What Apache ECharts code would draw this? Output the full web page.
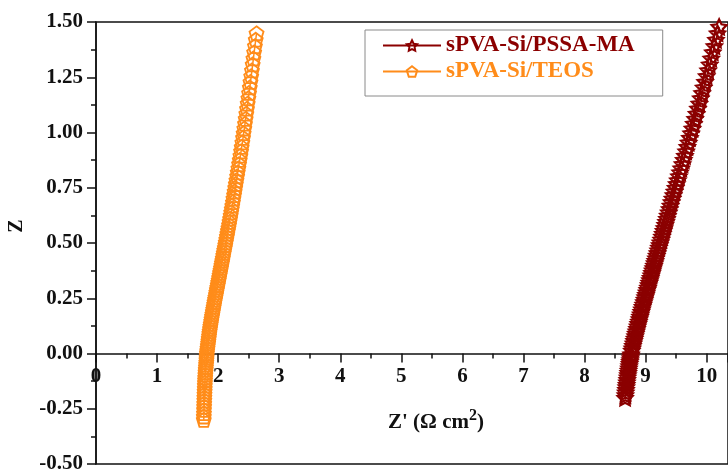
<!DOCTYPE html>
<html>
<head>
<meta charset="utf-8">
<script src="https://cdn.jsdelivr.net/npm/echarts@6/dist/echarts.min.js"></script>
<style>html,body{margin:0;padding:0;background:#fff}#c{width:728px;height:473px}</style>
</head>
<body>
<div id="c"></div>
<script>
var seriesNames = ['sPVA-Si/PSSA-MA', 'sPVA-Si/TEOS'];
var xTicks = [0,1,2,3,4,5,6,7,8,9,10];
var xMax = 10.35;
var yTicks = [-0.5,-0.25,0,0.25,0.5,0.75,1.0,1.25,1.5];

var teosY = [-0.300,-0.285,-0.270,-0.255,-0.240,-0.226,-0.212,-0.198,-0.184,-0.171,-0.158,-0.145,-0.132,-0.120,-0.108,-0.096,-0.084,-0.072,-0.061,-0.050,-0.039,-0.028,-0.018,-0.008,0.002,
0.013,0.024,0.035,0.046,0.057,0.068,0.079,0.090,0.101,0.112,0.123,0.134,0.145,0.156,0.167,0.178,0.189,0.200,0.211,0.222,0.233,0.244,0.255,0.266,0.277,0.288,0.299,0.310,0.321,0.332,0.343,0.354,0.365,0.376,0.387,0.398,0.409,
0.420,0.431,0.443,0.455,0.467,0.479,0.491,0.503,0.516,0.529,0.542,0.555,0.568,0.582,0.596,0.610,0.624,0.639,0.654,0.669,0.685,0.701,0.717,0.733,0.750,0.767,0.784,0.802,0.820,0.838,0.857,0.876,0.895,0.915,0.935,0.955,0.976,0.997,1.018,1.040,1.062,1.085,1.108,1.131,1.155,1.179,1.204,1.229,1.255,1.281,1.308,1.335,1.363,1.391,1.420,1.449];
var teosX = [1.765,1.766,1.768,1.769,1.771,1.772,1.774,1.775,1.777,1.779,1.781,1.782,1.784,1.786,1.788,1.791,1.794,1.797,1.800,1.803,1.806,1.809,1.811,1.814,1.816,
1.821,1.826,1.831,1.836,1.841,1.846,1.851,1.856,1.861,1.867,1.873,1.879,1.886,1.892,1.899,1.906,1.913,1.920,1.927,1.934,1.941,1.949,1.956,1.964,1.971,1.979,1.986,1.994,2.001,2.009,2.016,2.024,2.031,2.039,2.046,2.054,2.061,
2.069,2.076,2.084,2.092,2.100,2.109,2.117,2.125,2.134,2.143,2.151,2.160,2.169,2.178,2.187,2.196,2.205,2.214,2.223,2.232,2.242,2.251,2.261,2.270,2.280,2.290,2.300,2.311,2.321,2.332,2.343,2.354,2.365,2.376,2.386,2.397,2.408,2.418,2.429,2.440,2.451,2.462,2.473,2.484,2.496,2.507,2.519,2.530,2.542,2.554,2.566,2.578,2.590,2.603,2.616,2.629];

var pssaY = [-0.200,-0.188,-0.176,-0.164,-0.152,-0.141,-0.130,-0.119,-0.108,-0.097,-0.087,-0.077,-0.067,-0.057,-0.047,-0.038,-0.029,-0.020,-0.011,-0.003,
0.013,0.024,0.035,0.046,0.057,0.068,0.079,0.090,0.101,0.112,0.123,0.134,0.145,0.156,0.167,0.178,0.189,0.200,0.211,0.222,0.233,0.244,0.255,0.266,0.277,0.288,0.299,0.310,0.321,0.332,0.343,0.354,0.365,0.376,0.387,0.398,0.409,
0.420,0.431,0.443,0.455,0.467,0.479,0.491,0.503,0.516,0.529,0.542,0.555,0.568,0.582,0.596,0.610,0.624,0.639,0.654,0.669,0.685,0.701,0.717,0.733,0.750,0.767,0.784,0.802,0.820,0.838,0.857,0.876,0.895,0.915,0.935,0.955,0.976,0.997,1.018,1.040,1.062,1.085,1.108,1.131,1.155,1.179,1.204,1.229,1.255,1.281,1.308,1.335,1.363,1.391,1.420,1.449,1.478];
var pssaX = [8.665,8.670,8.675,8.680,8.685,8.690,8.695,8.700,8.705,8.711,8.716,8.721,8.727,8.732,8.738,8.743,8.748,8.753,8.758,8.763,
8.775,8.784,8.793,8.802,8.812,8.821,8.831,8.840,8.850,8.860,8.870,8.880,8.890,8.900,8.910,8.920,8.930,8.940,8.951,8.962,8.973,8.984,8.995,9.006,9.017,9.028,9.039,9.050,9.061,9.072,9.083,9.094,9.105,9.116,9.127,9.138,9.149,
9.160,9.171,9.183,9.195,9.207,9.219,9.231,9.243,9.256,9.269,9.282,9.295,9.308,9.322,9.336,9.350,9.364,9.379,9.394,9.409,9.425,9.441,9.457,9.474,9.492,9.510,9.528,9.547,9.566,9.585,9.605,9.625,9.645,9.665,9.685,9.705,9.726,9.747,9.768,9.790,9.812,9.835,9.858,9.881,9.904,9.927,9.951,9.975,10.000,10.025,10.050,10.075,10.101,10.127,10.153,10.179,10.205];

function zip(xs, ys){ var d=[]; for(var i=0;i<xs.length;i++) d.push([xs[i], ys[i]]); return d; }

var FONT = "'Liberation Serif','Times New Roman',serif";
var RED = '#8B0000', ORANGE = '#FF8C1A';
var starPath = 'path://M0,-10 L2.94,-4.05 L9.51,-3.09 L4.76,1.55 L5.88,8.09 L0,5.2 L-5.88,8.09 L-4.76,1.55 L-9.51,-3.09 L-2.94,-4.05 Z';
var pentPath = 'path://M0,-10 L9.51,-3.09 L5.88,8.09 L-5.88,8.09 L-9.51,-3.09 Z';

var chart = echarts.init(document.getElementById('c'), null, {renderer:'canvas'});
chart.setOption({
  animation: false,
  backgroundColor: '#fff',
  grid: { left: 96, top: 22, right: 0, bottom: 9, outerBoundsMode: 'none', containLabel: false,
          show: true, borderColor: '#111', borderWidth: 1.5, backgroundColor: 'transparent' },
  legend: {
    orient: 'vertical', left: 365, top: 30,
    padding: [4, 28, 13, 17], itemGap: 3,
    itemWidth: 58, itemHeight: 13,
    borderColor: '#8a8a8a', borderWidth: 1,
    textStyle: { fontFamily: FONT, fontWeight: 'bold', fontSize: 23 },
    data: [
      { name: seriesNames[0], textStyle: { color: RED } },
      { name: seriesNames[1], textStyle: { color: ORANGE } }
    ]
  },
  xAxis: {
    type: 'value', min: xTicks[0], max: xMax, interval: 1,
    position: 'bottom', offset: -110.5,
    axisLine: { onZero: false, lineStyle: { color: '#111', width: 1.5 } },
    axisTick: { show: true, inside: false, length: 9, lineStyle: { color: '#111', width: 1.5 } },
    minorTick: { show: true, splitNumber: 2, length: 5, lineStyle: { color: '#111', width: 1.5 } },
    splitLine: { show: false },
    axisLabel: { show: true, margin: 13, color: '#111', fontFamily: FONT, fontWeight: 'bold', fontSize: 21,
      showMaxLabel: false,
      formatter: function(v){ return xTicks.indexOf(v) >= 0 ? String(v) : ''; } },
    name: "Z' (Ω cm{sup|2})",
    nameLocation: 'middle', nameGap: 54,
    nameTextStyle: { color: '#111', fontFamily: FONT, fontWeight: 'bold', fontSize: 21, padding: [0,0,0,48],
      rich: { sup: { fontFamily: FONT, fontWeight: 'bold', fontSize: 16, color: '#111', padding: [0,0,15,0] } } }
  },
  yAxis: {
    type: 'value', min: yTicks[0], max: yTicks[yTicks.length-1], interval: 0.25,
    axisLine: { show: true, onZero: false, lineStyle: { color: '#111', width: 1.5 } },
    axisTick: { show: true, inside: false, length: 9, lineStyle: { color: '#111', width: 1.5 } },
    minorTick: { show: true, splitNumber: 2, length: 5, lineStyle: { color: '#111', width: 1.5 } },
    splitLine: { show: false },
    axisLabel: { margin: 13, color: '#111', fontFamily: FONT, fontWeight: 'bold', fontSize: 21,
      formatter: function(v){ return v.toFixed(2); } },
    name: 'Z', nameLocation: 'middle', nameGap: 69,
    nameTextStyle: { color: '#111', fontFamily: FONT, fontWeight: 'bold', fontSize: 20, padding: [0,0,0,34] }
  },
  series: [
    {
      name: seriesNames[0], type: 'line', data: zip(pssaX, pssaY),
      symbol: starPath, symbolSize: 15, showAllSymbol: true,
      lineStyle: { color: RED, width: 1.5 },
      itemStyle: { color: 'rgba(255,255,255,0)', borderColor: RED, borderWidth: 2.2 },
      z: 3
    },
    {
      name: seriesNames[1], type: 'line', data: zip(teosX, teosY),
      symbol: pentPath, symbolSize: 14, showAllSymbol: true,
      lineStyle: { color: ORANGE, width: 1.5 },
      itemStyle: { color: 'rgba(255,255,255,0)', borderColor: ORANGE, borderWidth: 1.8 },
      z: 2
    }
  ]
});
</script>
</body>
</html>
